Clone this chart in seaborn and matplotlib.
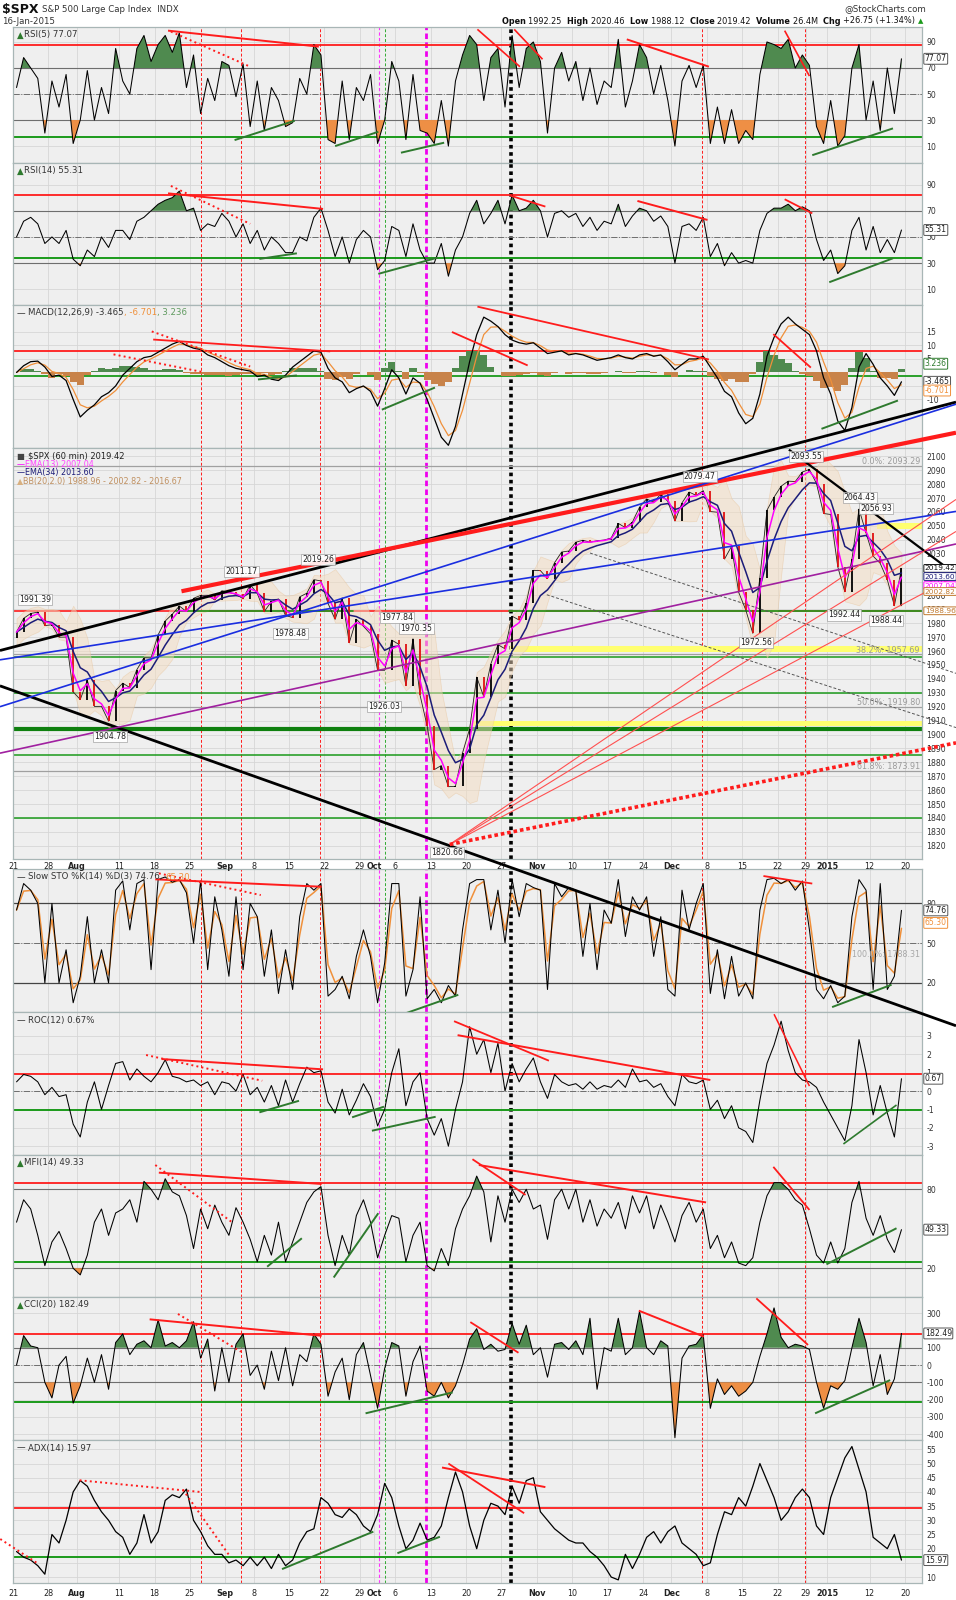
import numpy as np
import pandas as pd
import matplotlib
matplotlib.use("Agg")
import matplotlib.pyplot as plt
import matplotlib.transforms as mtransforms
import seaborn as sns

# ---------------------------------------------------------------- axis dates
HOLIDAYS = ["2014-09-01", "2014-11-27", "2014-12-25", "2015-01-01", "2015-01-19"]
TICK_DATES = ["2014-07-21", "2014-07-28", "2014-08-01", "2014-08-11", "2014-08-18",
              "2014-08-25", "2014-09-02", "2014-09-08", "2014-09-15", "2014-09-22",
              "2014-09-29", "2014-10-01", "2014-10-06", "2014-10-13", "2014-10-20",
              "2014-10-27", "2014-11-03", "2014-11-10", "2014-11-17", "2014-11-24",
              "2014-12-01", "2014-12-08", "2014-12-15", "2014-12-22", "2014-12-29",
              "2015-01-02", "2015-01-12", "2015-01-20"]
TICK_LABELS = ["21", "28", "Aug", "11", "18", "25", "Sep", "8", "15", "22", "29", "Oct",
               "6", "13", "20", "27", "Nov", "10", "17", "24", "Dec", "8", "15", "22",
               "29", "2015", "12", "20"]
MONTHS = ["Aug", "Sep", "Oct", "Nov", "Dec", "2015"]

# ---------------------------------------------------------------- series (one value per session)
CLOSE = [1973.63, 1983.53, 1987.01, 1987.98, 1978.34,
         1978.91, 1969.95, 1970.07, 1930.67, 1925.15,
         1938.99, 1920.21, 1920.24, 1909.57, 1931.59,
         1936.92, 1933.75, 1946.72, 1955.18, 1955.06,
         1971.74, 1981.60, 1986.51, 1992.37, 1988.40,
         1997.92, 2000.02, 2000.12, 1996.74, 2003.37,
         2002.28, 2000.72, 1997.65, 2007.71,
         2001.54, 1988.44, 1995.69, 1997.45, 1985.54,
         1984.13, 1998.98, 2001.57, 2011.36, 2010.40,
         1994.29, 1982.77, 1998.30, 1965.99, 1982.85,
         1977.80, 1972.29, 1946.16, 1946.17, 1967.90,
         1964.82, 1935.10, 1968.89, 1928.21, 1906.13,
         1874.74, 1877.70, 1862.49, 1862.76, 1886.76,
         1904.01, 1941.28, 1927.11, 1950.82, 1964.58,
         1961.63, 1985.05, 1982.30, 1994.65, 2018.05,
         2017.81, 2012.10, 2023.57, 2031.21, 2031.92,
         2038.26, 2039.68, 2038.25, 2039.33, 2039.82,
         2041.32, 2051.80, 2048.72, 2052.75, 2063.50,
         2069.41, 2067.03, 2072.83, 2067.56,
         2053.44, 2066.55, 2074.33, 2071.92, 2075.37,
         2060.31, 2059.82, 2026.14, 2035.33, 2002.33,
         1989.63, 1972.74, 2012.89, 2061.23, 2070.65,
         2078.54, 2082.17, 2081.88, 2088.77,
         2090.57, 2080.35, 2058.90, 2058.20,
         2020.58, 2002.61, 2025.90, 2062.14, 2044.81,
         2028.26, 2023.03, 2011.27, 1992.67, 2019.42]

RSI5 = [55, 78, 70, 62, 20, 60, 40, 65, 12, 30, 68, 30, 55, 35, 85,
        60, 50, 85, 95, 75, 88, 95, 82, 97, 55, 80, 35, 62, 45, 75,
        72, 48, 73, 25, 60, 22, 55, 45, 25, 28, 62, 50, 88, 80,
        15, 12, 60, 15, 55, 45, 65, 12, 30, 75, 60, 15, 65, 22, 20,
        12, 45, 10, 60, 80, 95, 88, 45, 78, 85, 40, 95, 55, 85, 90,
        75, 20, 70, 82, 60, 75, 45, 70, 42, 60, 55, 92, 40, 60, 88,
        78, 50, 72, 45, 10, 60, 72, 55, 72, 12, 40, 12, 38, 12,
        22, 15, 65, 90, 88, 85, 92, 70, 80, 72, 25, 12, 45,
        10, 18, 70, 88, 30, 60, 22, 70, 35, 77.07]

RSI14 = [50, 62, 65, 60, 45, 50, 45, 55, 33, 28, 40, 35, 50, 42, 55,
         55, 48, 62, 65, 70, 75, 78, 80, 85, 70, 72, 55, 60, 58, 68,
         62, 50, 60, 45, 55, 40, 50, 45, 38, 38, 50, 47, 65, 72,
         55, 35, 50, 30, 48, 55, 50, 25, 32, 58, 55, 35, 60, 40, 30,
         30, 45, 20, 40, 50, 68, 78, 60, 68, 78, 60, 82, 70, 72, 78,
         70, 50, 68, 70, 65, 68, 58, 65, 55, 62, 60, 75, 58, 66, 72,
         70, 62, 66, 58, 30, 58, 60, 55, 65, 35, 45, 28, 38, 30,
         32, 30, 55, 68, 72, 72, 75, 70, 73, 70, 48, 32, 40,
         22, 28, 55, 65, 40, 58, 38, 48, 38, 55.31]

MACD = [0, 2.5, 4.0, 4.2, 2.0, -1.5, -1.0, -3.0, -10, -16.5,
        -14, -12, -9, -7.5, -5, -1, 1.5, 4, 5.5, 6,
        7.5, 9, 10.5, 11.5, 10, 9, 8.5, 6.5, 5.5, 4,
        2.5, 1.5, 1.0, 0.5, -1.5, -1.0, -2.5, -3.0, -1.0,
        2.0, 4.0, 6.0, 8.0, 7.5, 1.5, -2.0, -3.5, -7.5, -6,
        -5, -7, -12.5, -6, 1.0, -2, -8, -2, -4, -10,
        -17, -24, -27, -20, -8, 4, 14, 20.5, 19, 17,
        14, 12, 11, 10.5, 11, 9, 7, 7.5, 8, 6.5,
        7, 6.5, 5.5, 4.5, 5, 5.5, 6.5, 5.5, 5, 6.5,
        7, 6, 6.5, 4, 1, 3, 5, 5, 6, 2, -2, -7, -9, -15,
        -19, -17, -8, 6, 13, 18, 20.5, 18, 16, 14, 8, -2, -8,
        -18, -21.5, -13, 2, 7, 3, -2, -5, -8.5, -3.465]

STO_K = [75, 95, 90, 80, 20, 80, 20, 45, 5, 25, 70, 20, 45, 20, 90,
         97, 60, 95, 98, 30, 98, 100, 96, 98, 88, 50, 97, 30, 85, 60,
         25, 85, 30, 80, 70, 25, 60, 12, 45, 15, 70, 95, 90, 95,
         10, 15, 25, 8, 40, 60, 40, 5, 35, 95, 95, 10, 30, 85, 8,
         15, 5, 18, 10, 60, 95, 98, 98, 60, 90, 50, 98, 70, 95, 92,
         90, 15, 95, 85, 92, 90, 40, 80, 30, 75, 65, 98, 55, 85, 75,
         85, 40, 70, 15, 10, 90, 60, 80, 95, 12, 45, 8, 40, 10,
         20, 8, 75, 98, 99, 95, 98, 90, 97, 60, 15, 8, 18,
         5, 10, 70, 98, 90, 15, 95, 15, 25, 74.76]

ROC = [0.5, 0.9, 0.8, 0.5, -0.2, 0.2, -0.3, -0.2, -1.8, -2.5,
       -0.6, 0.5, -1.0, 0.3, 1.5, 1.6, 0.6, 1.2, 0.8, 0.5,
       1.0, 1.7, 0.8, 0.7, 0.5, 0.6, 0.3, 0.5, -0.2, 0.5,
       0.4, 0.0, 0.9, -0.2, 0.2, -0.6, 0.3, -0.8, 0.6,
       -0.6, 0.4, 1.3, 1.0, 1.1, -0.6, -1.2, 0.1, -1.3, -0.5,
       0.4, -0.3, -1.9, -1.0, 1.0, 2.3, -0.8, 0.5, 1.0, -1.5,
       -2.4, -1.5, -3.0, -1.0, 0.5, 3.5, 2.0, 2.8, 1.0, 2.6,
       0.0, 1.5, 0.5, 1.2, 1.8, 0.5, -0.4, 0.9, 0.5, 0.3,
       0.4, 0.1, 0.5, 0.1, 0.3, 0.2, 0.6, 0.2, 1.2, 0.5,
       0.6, 0.2, 0.4, -0.3, -0.8, 0.9, 0.5, 0.4, 0.6,
       -1.0, -0.5, -1.5, -0.8, -2.0, -2.2, -2.8, -0.5, 1.5, 2.5,
       3.8, 2.2, 1.0, 0.6, 0.5, 0.2, -0.6, -1.3,
       -2.0, -2.7, -0.8, 2.8, 1.0, -1.3, 0.3, -1.2, -2.5, 0.67]

MFI = [55, 72, 65, 45, 22, 40, 48, 35, 20, 15, 30, 55, 65, 45, 62,
       65, 72, 55, 86, 80, 72, 88, 78, 75, 60, 35, 65, 50, 68, 55,
       45, 66, 55, 42, 25, 45, 30, 55, 25, 40, 55, 70, 78, 82,
       45, 22, 45, 30, 60, 72, 55, 28, 45, 60, 58, 25, 45, 55, 22,
       18, 35, 22, 50, 65, 75, 90, 78, 40, 75, 55, 80, 70, 80, 65,
       68, 42, 72, 80, 65, 80, 55, 72, 52, 65, 58, 70, 50, 75, 62,
       75, 50, 68, 55, 40, 60, 70, 55, 65, 35, 45, 28, 40, 24,
       22, 28, 55, 75, 85, 85, 80, 72, 68, 50, 30, 24, 40,
       24, 35, 70, 86, 58, 45, 60, 42, 32, 49.33]

CCI = [0, 170, 110, 100, -100, -190, 0, 50, -220, -120,
       40, -100, 60, -140, 130, 180, 60, 120, 140, 100,
       260, 110, 130, 100, 140, 250, 40, 150, -150, 100,
       -100, 120, 180, -60, 0, -140, 80, -90, 100,
       -120, 60, 20, 180, 120, -180, -40, 40, -200, 60,
       130, -60, -250, -20, 130, 110, -180, 20, 110, -150,
       -180, -100, -190, -120, 0, 150, 210, 90, 120, 80,
       90, 240, 120, 230, 60, 100, -70, 120, 130, 90,
       140, 60, 270, -140, 100, 80, 270, 60, 100, 310,
       100, 60, 140, 110, -420, 40, 110, 120, 175,
       -250, -80, -170, -120, -180, -150, -100, 50, 180, 330,
       160, 100, 120, 110, 90, -100, -250, -120,
       -140, -90, 100, 270, 130, -120, 60, -170, -80, 182.49]

ADX = [19, 17, 16, 14, 11, 25, 22, 30, 40, 44, 42, 37, 33, 30, 26,
       24, 18, 22, 32, 22, 26, 37, 39, 38, 41, 30, 26, 21, 18, 18,
       15, 16, 14, 17, 14, 17, 13, 18, 14, 16, 22, 26, 27, 38,
       36, 32, 31, 34, 32, 28, 26, 32, 43, 38, 28, 20, 23, 29, 23,
       24, 28, 38, 47, 40, 28, 20, 30, 36, 35, 32, 42, 36, 44, 45,
       33, 30, 27, 25, 23, 22, 22, 19, 17, 14, 10, 9, 18, 13, 18,
       24, 26, 22, 26, 28, 22, 20, 18, 14, 15, 25, 33, 32, 38,
       35, 42, 50, 44, 38, 30, 33, 38, 41, 38, 28, 25, 38,
       45, 52, 56, 48, 40, 24, 22, 20, 25, 15.97]

# ---------------------------------------------------------------- annotations
PRICE_NOTES = [(3.1, 1997, "1991.39"), (13.7, 1898.6, "1904.78"), (32.3, 2017, "2011.17"),
               (43.1, 2025.7, "2019.26"), (39.2, 1972.5, "1978.48"), (54.2, 1984, "1977.84"),
               (57.0, 1976, "1970.35"), (52.4, 1920, "1926.03"), (61.3, 1815, "1820.66"),
               (97.0, 2085.6, "2079.47"), (112.0, 2099.8, "2093.55"), (119.6, 2070.3, "2064.43"),
               (121.9, 2062.6, "2056.93"), (117.4, 1986, "1992.44"), (123.3, 1982, "1988.44"),
               (104.9, 1966, "1972.56")]
FIB_LEVELS = [2093.29, 1957.69, 1919.80, 1873.91]
FIB_NAMES = ["0.0%", "38.2%", "50.0%", "61.8%"]

# ---------------------------------------------------------------- styling constants
W, H = 956, 1600
L, R = 13, 922
XMAX = 128.4
BG = "#efefef"
GRID = "#d6d6d6"
EDGE = "#a8b6b6"
RED = "#ff1c1c"
HGREEN = "#1b9a1b"
TGREEN = "#2e7a2e"
DARK = "#6e6e6e"
UPFILL = "#4f8a4f"
DNFILL = "#ee8f45"
ORANGE = "#f0903a"

sns.set_theme(style="white")
plt.rcParams["font.family"] = ["DejaVu Sans"]
plt.rcParams["axes.unicode_minus"] = False

days = pd.bdate_range("2014-07-21", "2015-01-23")
days = days[~days.isin(pd.to_datetime(HOLIDAYS))]
day_pos = {d: i for i, d in enumerate(days)}
tick_pos = [day_pos[pd.Timestamp(d)] for d in TICK_DATES]
x = np.arange(len(CLOSE)) + 0.5

VLINES = [(26.6, RED, (0, (3, 2)), 0.7), (32.2, RED, (0, (3, 2)), 0.7),
          (43.4, RED, (0, (3, 2)), 0.7), (97.3, RED, (0, (3, 2)), 0.7),
          (111.9, RED, (0, (3, 2)), 0.7), (51.7, "#ff33ff", (0, (3, 2)), 0.8),
          (52.5, "#33aa33", (0, (3, 2)), 0.7), (58.3, "#ee00ee", (0, (2, 1.2)), 2.0),
          (70.3, "black", (0, (1, 1)), 2.6)]

fig = plt.figure(figsize=(W / 100, H / 100), dpi=100)
fig.patch.set_facecolor("white")
renderer = fig.canvas.get_renderer()


def panel(top, bottom):
    return fig.add_axes([L / W, 1 - bottom / H, (R - L) / W, (bottom - top) / H])


def finish(ax, ylim, yticks, xlabels=False, pad=2):
    ax.set_facecolor(BG)
    ax.set_xlim(0, XMAX)
    ax.set_ylim(*ylim)
    ax.set_xlabel("")
    ax.set_ylabel("")
    ax.yaxis.tick_right()
    ax.set_yticks(yticks)
    ax.tick_params(axis="y", length=0, labelsize=5.6, pad=3, colors="#333333")
    ax.set_xticks(tick_pos)
    if xlabels:
        ax.set_xticklabels(TICK_LABELS)
        ax.tick_params(axis="x", length=0, labelsize=5.8, pad=pad, colors="#222222")
        for t in ax.get_xticklabels():
            if t.get_text() in MONTHS:
                t.set_fontweight("bold")
    else:
        ax.tick_params(axis="x", length=0, labelbottom=False)
    ax.grid(True, color=GRID, lw=0.6)
    ax.set_axisbelow(True)
    for s in ax.spines.values():
        s.set_color(EDGE)
        s.set_linewidth(0.9)
    for xv, c, ls, lw in VLINES:
        ax.axvline(xv, color=c, ls=ls, lw=lw, zorder=1.5)


def hlines(ax, levels):
    for y, c, ls, lw in levels:
        ax.axhline(y, color=c, ls=ls, lw=lw, zorder=1.6)


def trends(ax, lines, clip=True):
    for (x0, y0), (x1, y1), c, ls, lw in lines:
        ax.plot([x0, x1], [y0, y1], color=c, ls=ls, lw=lw, clip_on=clip, zorder=4,
                solid_capstyle="butt")


def label(ax, parts, dy=8, size=6.2):
    off = 4
    for s, col in parts:
        t = ax.annotate(s, xy=(0, 1), xycoords="axes fraction", xytext=(off, -dy),
                        textcoords="offset pixels", color=col, fontsize=size, va="center",
                        ha="left", zorder=6)
        off += t.get_window_extent(renderer).width


def vbox(ax, val, txt, col, ec=None, size=5.6):
    tr = mtransforms.blended_transform_factory(ax.transAxes, ax.transData)
    ax.text(1.003, val, txt, transform=tr, fontsize=size, color=col, va="center", ha="left",
            clip_on=False, zorder=7,
            bbox=dict(boxstyle="round,pad=0.12", fc="white", ec=ec or col, lw=0.7))


def osc(ax, vals, up=None, dn=None):
    v = np.asarray(vals, dtype=float)
    if up is not None:
        ax.fill_between(x, v, up, where=v > up, interpolate=True, color=UPFILL, lw=0, zorder=2)
    if dn is not None:
        ax.fill_between(x, v, dn, where=v < dn, interpolate=True, color=DNFILL, lw=0, zorder=2)
    sns.lineplot(x=x, y=v, ax=ax, color="black", lw=0.75, zorder=3)


# ---------------------------------------------------------------- header
def ftext(px, py, s, **kw):
    return fig.text(px / W, 1 - py / H, s, va="center", **kw)


t = ftext(2, 9, "$SPX", fontsize=9, fontweight="bold", color="#111111")
ftext(2 + t.get_window_extent(renderer).width + 3, 9, "S&P 500 Large Cap Index  INDX",
      fontsize=6.2, color="#333333")
ftext(2, 21, "16-Jan-2015", fontsize=6.2, color="#333333")
ftext(926, 9, "@StockCharts.com", fontsize=6.2, color="#333333", ha="right")

HEAD = [("Open ", True), ("1992.25  ", False), ("High ", True), ("2020.46  ", False),
        ("Low ", True), ("1988.12  ", False), ("Close ", True), ("2019.42  ", False),
        ("Volume ", True), ("26.4M  ", False), ("Chg ", True), ("+26.75 (+1.34%) ", False)]
pieces = [ftext(0, 21, s, fontsize=5.9, fontweight="bold" if b else "normal", color="#111111")
          for s, b in HEAD]
widths = [p.get_window_extent(renderer).width for p in pieces]
hx = 918 - sum(widths)
for p, w_ in zip(pieces, widths):
    p.set_x(hx / W)
    hx += w_
ftext(hx, 21, "\u25b2", fontsize=5, color="#1b9a1b")

# ---------------------------------------------------------------- RSI(5)
ax = panel(27, 163)
hlines(ax, [(88, RED, "-", 1.3), (70, DARK, "-", 0.8), (50, DARK, "-.", 0.7),
            (30, DARK, "-", 0.8), (17, HGREEN, "-", 1.4)])
osc(ax, RSI5, 70, 30)
trends(ax, [((21.9, 98.7), (43.2, 86.4), RED, "-", 1.4),
            ((22.3, 98.0), (33.5, 71.0), RED, ":", 1.4),
            ((31.3, 14.6), (39.8, 29.5), TGREEN, "-", 1.4),
            ((45.5, 10.0), (51.6, 21.0), TGREEN, "-", 1.4),
            ((54.8, 4.9), (60.9, 12.6), TGREEN, "-", 1.4),
            ((65.6, 99.7), (71.6, 71.0), RED, "-", 1.2),
            ((70.8, 99.7), (74.8, 76.7), RED, "-", 1.2),
            ((86.7, 92.0), (98.3, 71.0), RED, "-", 1.4),
            ((109.0, 98.7), (112.5, 63.8), RED, "-", 1.2),
            ((112.9, 3.0), (124.3, 23.6), TGREEN, "-", 1.4)])
finish(ax, (-3, 101.5), [10, 30, 50, 70, 90])
label(ax, [("\u25b2", TGREEN), ("RSI(5) 77.07", "#333333")])
vbox(ax, 77.07, "77.07", "#222222", "#555555")

# ---------------------------------------------------------------- RSI(14)
ax = panel(163, 305)
hlines(ax, [(82, RED, "-", 1.3), (70, DARK, "-", 0.8), (50, DARK, "-.", 0.7),
            (30, DARK, "-", 0.8), (34, HGREEN, "-", 1.4)])
osc(ax, RSI14, 70, 30)
trends(ax, [((21.9, 83.3), (43.8, 71.4), RED, "-", 1.4),
            ((22.3, 89.0), (33.5, 60.0), RED, ":", 1.4),
            ((34.8, 33.2), (40.1, 37.5), TGREEN, "-", 1.4),
            ((51.6, 21.8), (60.0, 34.2), TGREEN, "-", 1.4),
            ((70.3, 81.5), (75.2, 73.2), RED, "-", 1.3),
            ((88.2, 77.5), (98.1, 63.0), RED, "-", 1.4),
            ((109.0, 78.8), (112.9, 68.0), RED, "-", 1.3),
            ((115.3, 15.4), (124.3, 33.7), TGREEN, "-", 1.4)])
finish(ax, (-2, 106.5), [10, 30, 50, 70, 90])
label(ax, [("\u25b2", TGREEN), ("RSI(14) 55.31", "#333333")])
vbox(ax, 55.31, "55.31", "#222222", "#555555")

# ---------------------------------------------------------------- MACD
ax = panel(305, 448)
m = pd.Series(MACD, dtype=float)
sig = m.ewm(span=2.6, adjust=False).mean()
hist = m - sig
hlines(ax, [(8, RED, "-", 1.3), (-1.5, HGREEN, "-", 1.3)])
ax.bar(x, hist, width=1.0, color=np.where(hist >= 0, UPFILL, "#c8834a"), lw=0, zorder=2)
sns.lineplot(x=x, y=sig.values, ax=ax, color=ORANGE, lw=0.9, zorder=3)
sns.lineplot(x=x, y=m.values, ax=ax, color="black", lw=0.9, zorder=3)
trends(ax, [((19.8, 12.2), (44.8, 7.8), RED, "-", 1.3),
            ((19.6, 15.2), (33.5, 2.2), RED, ":", 1.4),
            ((14.2, 6.7), (26.9, 0.1), RED, ":", 1.4),
            ((34.6, -2.6), (40.1, -1.1), TGREEN, "-", 1.4),
            ((52.1, -13.8), (59.6, -5.6), TGREEN, "-", 1.4),
            ((65.6, 24.4), (98.3, 4.8), RED, "-", 1.3),
            ((62.0, 15.0), (72.7, 2.6), RED, "-", 1.3),
            ((107.4, 14.2), (112.7, 1.8), RED, "-", 1.3),
            ((114.2, -20.9), (125.0, -10.4), TGREEN, "-", 1.4)])
finish(ax, (-28, 25), [-10, -5, 5, 10, 15])
label(ax, [("\u2014 ", "#333333"), ("MACD(12,26,9) -3.465", "#333333"), (", -6.701", ORANGE),
           (", 3.236", "#5f9a5f")])
vbox(ax, 3.236, "3.236", "#2e7a2e")
vbox(ax, -3.465, "-3.465", "#222222", "#555555")
vbox(ax, -6.701, "-6.701", ORANGE)

# ---------------------------------------------------------------- STO
ax_sto = panel(869, 1012)
k = pd.Series(STO_K, dtype=float)
dline = k.ewm(span=1.8, adjust=False).mean()
hlines(ax_sto, [(80, "#444444", "-", 0.9), (50, DARK, "-.", 0.7), (20, "#444444", "-", 0.9)])
sns.lineplot(x=x, y=dline.values, ax=ax_sto, color=ORANGE, lw=1.1, zorder=3)
sns.lineplot(x=x, y=k.values, ax=ax_sto, color="black", lw=0.75, zorder=3)
trends(ax_sto, [((20.1, 98.2), (43.6, 92.6), RED, "-", 1.4),
                ((20.6, 102.7), (35.0, 86.3), RED, ":", 1.4),
                ((54.6, -4.6), (62.9, 11.0), TGREEN, "-", 1.4),
                ((106.0, 100.7), (112.9, 95.0), RED, "-", 1.3),
                ((115.7, 1.7), (124.1, 18.6), TGREEN, "-", 1.4)], clip=False)
finish(ax_sto, (-2, 106), [20, 50, 80])
label(ax_sto, [("\u2014 ", "#333333"), ("Slow STO %K(14) %D(3) 74.76, ", "#333333"),
               ("65.30", ORANGE)])
vbox(ax_sto, 74.76, "74.76", "#222222", "#555555")
vbox(ax_sto, 65.30, "65.30", ORANGE)

# ---------------------------------------------------------------- ROC
ax = panel(1012, 1155)
hlines(ax, [(0.9, RED, "-", 1.3), (0, DARK, "-.", 0.7), (-1.05, HGREEN, "-", 1.4)])
osc(ax, ROC)
trends(ax, [((18.8, 1.96), (35.2, 0.56), RED, ":", 1.4),
            ((21.0, 1.74), (43.8, 1.18), RED, "-", 1.4),
            ((34.8, -1.16), (40.4, -0.53), TGREEN, "-", 1.4),
            ((47.9, -1.43), (52.4, -0.85), TGREEN, "-", 1.4),
            ((50.7, -2.16), (59.7, -1.40), TGREEN, "-", 1.4),
            ((62.3, 3.8), (75.7, 1.65), RED, "-", 1.3),
            ((62.8, 3.04), (98.5, 0.6), RED, "-", 1.4),
            ((107.5, 4.18), (112.5, 0.27), RED, "-", 1.1),
            ((117.3, -2.88), (124.8, -0.76), TGREEN, "-", 1.2)])
finish(ax, (-3.48, 4.3), [-3, -2, -1, 0, 1, 2, 3])
label(ax, [("\u2014 ", "#333333"), ("ROC(12) 0.67%", "#333333")])
vbox(ax, 0.67, "0.67", "#222222", "#555555")

# ---------------------------------------------------------------- MFI
ax = panel(1155, 1297)
hlines(ax, [(84.6, RED, "-", 1.3), (80, DARK, "-", 0.8), (25, HGREEN, "-", 1.4),
            (20, DARK, "-", 0.8)])
osc(ax, MFI, 80, 20)
trends(ax, [((20.6, 92.6), (43.6, 84.0), RED, "-", 1.4),
            ((20.1, 98.4), (31.0, 54.7), RED, ":", 1.4),
            ((35.9, 21.2), (40.8, 42.8), TGREEN, "-", 1.4),
            ((45.3, 13.0), (51.6, 61.8), TGREEN, "-", 1.4),
            ((64.9, 102.8), (72.4, 75.7), RED, "-", 1.3),
            ((65.8, 98.4), (97.9, 70.0), RED, "-", 1.4),
            ((107.4, 97.0), (112.5, 64.3), RED, "-", 1.3),
            ((114.9, 23.0), (124.8, 50.4), TGREEN, "-", 1.4)])
finish(ax, (-1.8, 106), [20, 80])
label(ax, [("\u25b2", TGREEN), ("MFI(14) 49.33", "#333333")])
vbox(ax, 49.33, "49.33", "#222222", "#555555")

# ---------------------------------------------------------------- CCI
ax = panel(1297, 1440)
hlines(ax, [(177, RED, "-", 1.3), (100, DARK, "-", 0.8), (0, DARK, "-.", 0.7),
            (-100, DARK, "-", 0.8), (-212, HGREEN, "-", 1.4)])
osc(ax, CCI, 100, -100)
trends(ax, [((19.3, 264), (43.6, 169), RED, "-", 1.4),
            ((23.3, 295), (32.2, 77), RED, ":", 1.4),
            ((49.8, -279), (62.1, -158), TGREEN, "-", 1.4),
            ((64.6, 248), (71.4, 71), RED, "-", 1.3),
            ((88.4, 314), (97.6, 164), RED, "-", 1.4),
            ((105.0, 385), (112.3, 116), RED, "-", 1.3),
            ((113.3, -279), (123.9, -87), TGREEN, "-", 1.4)])
finish(ax, (-433, 393), [-400, -300, -200, -100, 0, 100, 300])
label(ax, [("\u25b2", TGREEN), ("CCI(20) 182.49", "#333333")])
vbox(ax, 182.49, "182.49", "#222222", "#555555")

# ---------------------------------------------------------------- ADX
ax = panel(1440, 1583)
hlines(ax, [(34.5, RED, "-", 1.3), (17, HGREEN, "-", 1.4)])
sns.lineplot(x=x, y=np.asarray(ADX, dtype=float), ax=ax, color="black", lw=0.9, zorder=3)
trends(ax, [((-1.8, 23.4), (3.3, 15.1), RED, ":", 1.4),
            ((9.4, 44.1), (26.4, 40.0), RED, ":", 1.4),
            ((24.0, 40.8), (30.7, 17.1), RED, ":", 1.4),
            ((38.0, 12.8), (50.9, 26.0), TGREEN, "-", 1.4),
            ((54.3, 18.4), (60.3, 24.2), TGREEN, "-", 1.4),
            ((60.6, 48.6), (75.2, 41.7), RED, "-", 1.4),
            ((61.5, 50.0), (72.2, 32.5), RED, "-", 1.3)], clip=False)
finish(ax, (7.9, 58.3), list(range(10, 60, 5)), xlabels=True, pad=4)
label(ax, [("\u2014 ", "#333333"), ("ADX(14) 15.97", "#333333")])
vbox(ax, 15.97, "15.97", "#222222", "#555555")

# ---------------------------------------------------------------- price (60 min)
ax = panel(448, 859)
ax.set_zorder(5)
s = pd.Series(CLOSE, dtype=float)
ema13 = s.ewm(span=2.0, adjust=False).mean()
ema34 = s.ewm(span=4.9, adjust=False).mean()
mid = s.rolling(4, min_periods=1).mean()
sd = s.rolling(4, min_periods=2).std().bfill()
ax.fill_between(x, mid - 1.4 * sd, mid + 1.4 * sd, color="#f4dcc0", alpha=0.5,
                edgecolor="#e8c49a", lw=0.5, zorder=1.7)

for lv in FIB_LEVELS:
    ax.axhline(lv, color="#a0a0a0", lw=0.9, zorder=1.6)
ax.axhspan(1959.5, 1963.5, xmin=70.2 / XMAX, xmax=1, color="#ffff70", lw=0, zorder=1.65)
ax.axhspan(1905.8, 1909.8, xmin=65 / XMAX, xmax=1, color="#ffff70", lw=0, zorder=1.65)
ax.axhspan(2048, 2052, xmin=122 / XMAX, xmax=1, color="#ffff70", lw=0, zorder=1.65)
hlines(ax, [(1989, RED, "-", 1.2), (1956, HGREEN, "-", 1.1), (1930, HGREEN, "-", 1.1),
            (1904, "#0f800f", "-", 3.0), (1885, HGREEN, "-", 1.1), (1840, HGREEN, "-", 1.1)])
ax.plot([70, XMAX], [1989, 1989], color=HGREEN, lw=1.2, zorder=1.7)
ax.plot([23, 48], [1989, 1989], color=HGREEN, lw=1.2, zorder=1.7)

opens = np.r_[CLOSE[0] - 4, CLOSE[:-1]]
cl = np.asarray(CLOSE, dtype=float)
ax.vlines(x, opens, cl, colors=np.where(cl >= opens, "black", "#e01010"), lw=1.3, zorder=2.5)
sns.lineplot(x=x, y=cl, ax=ax, color="#222222", lw=0.6, zorder=2.4)
sns.lineplot(x=x, y=ema34.values, ax=ax, color="#1c1c78", lw=1.1, zorder=3)
sns.lineplot(x=x, y=ema13.values, ax=ax, color="#ff00ff", lw=1.1, zorder=3.1)

trends(ax, [((-1.84, 1960.4), (133.2, 2139.0), "black", "-", 2.0),
            ((-1.84, 1935.0), (133.2, 1690.6), "black", "-", 2.0),
            ((23.8, 2003.0), (133.2, 2117.0), RED, "-", 3.0),
            ((-1.84, 1920.0), (133.2, 2137.5), "#1a2ee0", "-", 1.2),
            ((-1.84, 1953.7), (133.2, 2060.4), "#1a2ee0", "-", 1.2),
            ((-1.84, 1886.6), (133.2, 2037.0), "#a020a0", "-", 1.2),
            ((109.6, 2104.8), (133.2, 2015.0), "black", "-", 1.6),
            ((61.7, 1821.0), (133.2, 2069.0), "#ff5050", "-", 0.8),
            ((61.7, 1821.0), (133.2, 2046.0), "#ff5050", "-", 0.8),
            ((61.7, 1821.0), (133.2, 2014.0), "#ff5050", "-", 0.8),
            ((61.7, 1821.0), (133.2, 1894.0), RED, (0, (1, 0.8)), 2.6),
            ((81.5, 2030.5), (133.2, 1944.0), "#555555", (0, (3, 2)), 0.7),
            ((75.4, 2000.5), (133.2, 1905.0), "#555555", (0, (3, 2)), 0.7)], clip=False)

for px_, py_, txt in PRICE_NOTES:
    ax.text(px_, py_, txt, fontsize=5.6, ha="center", va="center", color="#222222", zorder=6,
            bbox=dict(boxstyle="square,pad=0.15", fc="white", ec="#9a9a9a", lw=0.5, alpha=0.9))
for lv, nm in zip(FIB_LEVELS, FIB_NAMES):
    ax.text(XMAX - 0.3, lv + 3, f"{nm}: {lv:.2f}", fontsize=5.8, ha="right", va="center",
            color="#9a9a9a", zorder=6)
ax.text(XMAX - 0.3, 1741.5, "100.0%: 1788.31", fontsize=5.8, ha="right", va="center",
        color="#a8a8a8", zorder=6, clip_on=False)

finish(ax, (1810.5, 2106), list(range(1820, 2101, 10)), xlabels=True, pad=2)
label(ax, [("\u25a0 ", "#444444"), ("$SPX (60 min) 2019.42", "#222222")], dy=8, size=6.0)
label(ax, [("\u2014", "#ff00ff"), ("EMA(13) 2007.04", "#ff44ff")], dy=16.5, size=5.8)
label(ax, [("\u2014", "#1c1c78"), ("EMA(34) 2013.60", "#1c1c78")], dy=25, size=5.8)
label(ax, [("\u25b2", "#d8b080"), ("BB(20,2.0) 1988.96 - 2002.82 - 2016.67", "#c09060")],
      dy=33.5, size=5.8)
vbox(ax, 2019.42, "2019.42", "#111111", size=5.3)
vbox(ax, 2013.60, "2013.60", "#1c1c78", size=5.3)
vbox(ax, 2007.04, "2007.04", "#ff00ff", size=5.3)
vbox(ax, 2002.82, "2002.82", "#c07a30", size=5.3)
vbox(ax, 1988.96, "1988.96", "#c07a30", size=5.3)

fig.savefig("out.png", dpi=100, facecolor="white")
